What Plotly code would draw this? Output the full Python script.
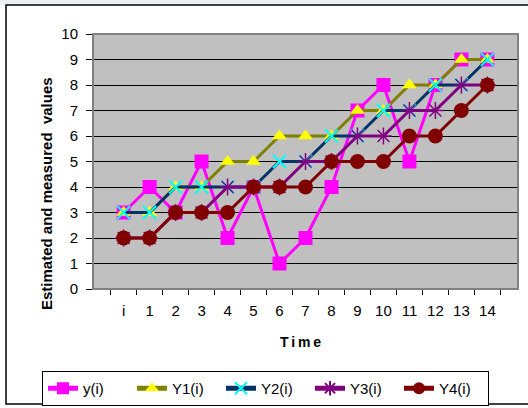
import plotly.graph_objects as go

# Time steps along the x axis
time_labels = ["i", "1", "2", "3", "4", "5", "6", "7", "8", "9", "10", "11", "12", "13", "14"]

# Measured and estimated series
y_meas = [3, 4, 3, 5, 2, 4, 1, 2, 4, 7, 8, 5, 8, 9, 9]
y1_est = [3, 3, 4, 4, 5, 5, 6, 6, 6, 7, 7, 8, 8, 9, 9]
y2_est = [3, 3, 4, 4, 4, 4, 5, 5, 6, 6, 7, 7, 8, 8, 9]
y3_est = [2, 2, 3, 3, 4, 4, 4, 5, 5, 6, 6, 7, 7, 8, 8]
y4_est = [2, 2, 3, 3, 3, 4, 4, 4, 5, 5, 5, 6, 6, 7, 8]

y_ticks = list(range(0, 11))

FONT = "Liberation Sans, Arial, sans-serif"

# plot-area geometry in pixels
W, H = 528, 408
ML, MR, MT, MB = 93, 10, 34, 119
PW, PH = W - ML - MR, H - MT - MB


def px_x(px):
    return (px - ML) / PW


def px_y(py):
    return (H - MB - py) / PH


series = [
    ("y(i)", y_meas, "#FF00FF", dict(symbol="square", size=14, color="#FF00FF")),
    ("Y1(i)", y1_est, "#808000", dict(symbol="triangle-up", size=13, color="#FFFF00")),
    ("Y2(i)", y2_est, "#003366", dict(symbol="x-thin-open", size=13, color="#00FFFF",
                                      line=dict(width=2, color="#00FFFF"))),
    ("Y3(i)", y3_est, "#800080", dict(symbol="asterisk-open", size=14, color="#800080",
                                      line=dict(width=1.5, color="#800080"))),
    ("Y4(i)", y4_est, "#800000", dict(symbol="circle", size=15, color="#800000")),
]

fig = go.Figure()
for name, vals, lcolor, mk in series:
    fig.add_trace(go.Scatter(
        x=time_labels, y=vals, name=name, mode="lines+markers",
        line=dict(color=lcolor, width=3), marker=mk,
    ))

fig.update_layout(
    width=W, height=H,
    margin=dict(l=ML, r=MR, t=MT, b=MB, autoexpand=False),
    paper_bgcolor="white",
    plot_bgcolor="#C0C0C0",
    font=dict(family=FONT, size=15, color="black"),
    showlegend=True,
    legend=dict(
        orientation="h",
        x=px_x(42), xanchor="left",
        y=px_y(371), yanchor="top",
        bordercolor="black", borderwidth=1,
        bgcolor="white",
        font=dict(size=15),
        entrywidth=44, entrywidthmode="pixels",
        itemsizing="constant",
        itemclick=False,
    ),
    xaxis=dict(
        type="category", categoryorder="array", categoryarray=time_labels,
        showgrid=False, showline=True, linecolor="black", linewidth=1,
        ticks="outside", ticklen=5, tickcolor="black", tickson="boundaries",
        tickfont=dict(size=15), ticklabelstandoff=8, zeroline=False,
    ),
    yaxis=dict(
        range=[0, 10], tickvals=y_ticks, ticktext=[str(v) for v in y_ticks],
        showgrid=True, gridcolor="black", gridwidth=1,
        showline=True, linecolor="black", linewidth=1,
        ticks="outside", ticklen=6, tickcolor="black",
        tickfont=dict(size=15), ticklabelstandoff=5, zeroline=False,
    ),
    annotations=[
        dict(text="<b>Estimated and measured  values</b>", textangle=-90,
             xref="paper", yref="paper", x=px_x(46), y=px_y(194),
             showarrow=False, font=dict(size=15), xanchor="center", yanchor="middle"),
        dict(text="<b>T\u2009i\u2009m\u2009e</b>",
             xref="paper", yref="paper", x=px_x(300), y=px_y(342),
             showarrow=False, font=dict(size=14), xanchor="center", yanchor="middle"),
    ],
    shapes=[
        # light strip above the frame
        dict(type="rect", xref="paper", yref="paper", layer="below",
             x0=px_x(0), x1=px_x(W + 2), y0=px_y(4.5), y1=px_y(-2),
             fillcolor="#ECEFF2", line=dict(width=0)),
        # outer chart frame
        dict(type="rect", xref="paper", yref="paper",
             x0=px_x(6), x1=px_x(W + 5), y0=px_y(404), y1=px_y(5),
             line=dict(color="black", width=1.5)),
        # plot-area border
        dict(type="rect", xref="paper", yref="paper",
             x0=0, x1=1, y0=0, y1=1, line=dict(color="#808080", width=2)),
    ],
)

fig.write_html("out.html")
